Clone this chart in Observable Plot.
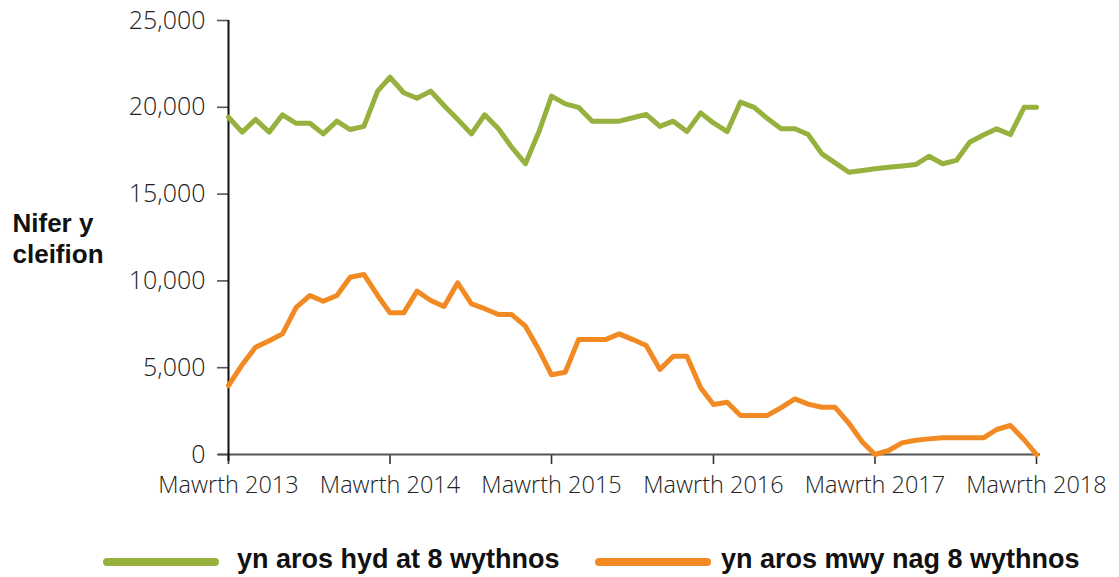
<!DOCTYPE html>
<html><head><meta charset="utf-8">
<script src="https://cdn.jsdelivr.net/npm/d3@7"></script>
<script src="https://cdn.jsdelivr.net/npm/@observablehq/plot@0.6"></script>
<style>
body{margin:0;background:#fff;font-family:"Liberation Sans",Arial,sans-serif}
#chart svg{display:block}
</style>
</head><body><div id="chart"></div><script>
// ---- data ----
const seriesNames = ["yn aros hyd at 8 wythnos", "yn aros mwy nag 8 wythnos"];
const seriesColors = ["#97b13e", "#f28a24"];
const startMonth = "2013-03-01";
const endMonth = "2018-03-01";
const tickYears = [2013, 2014, 2015, 2016, 2017, 2018];
const tickPrefix = "Mawrth";
const yTicks = [0, 5000, 10000, 15000, 20000, 25000];
const yLabel = "Nifer y\ncleifion";
// monthly, March 2013 to March 2018
const upTo8Weeks = [
  19430, 18570, 19300, 18570, 19570, 19080, 19080, 18470, 19200, 18720,
  18900, 20930, 21730, 20840, 20520, 20930, 20100, 19300, 18470, 19570, 18760, 17700,
  16750, 18620, 20640, 20200, 20000, 19200, 19200, 19200, 19400, 19590, 18900, 19200,
  18600, 19680, 19100, 18600, 20300, 20000, 19350, 18760, 18760, 18430, 17320, 16800,
  16260, 16360, 16460, 16550, 16620, 16700, 17180, 16750, 16940, 17990, 18400, 18760,
  18430, 20000, 20000
];
const over8Weeks = [
  3970, 5170, 6180, 6550, 6950, 8480, 9160, 8830, 9160, 10210,
  10370, 9160, 8160, 8160, 9410, 8870, 8530, 9890, 8680, 8400, 8060, 8060,
  7390, 6000, 4590, 4740, 6620, 6620, 6620, 6950, 6620, 6280, 4900, 5660,
  5660, 3840, 2880, 3010, 2250, 2250, 2250, 2700, 3200, 2900, 2720, 2720,
  1800, 710, 0, 230, 670, 820, 900, 960, 960, 960, 960, 1440,
  1670, 850, 0
];

// ---- build table ----
const months = d3.utcMonth.range(new Date(startMonth), d3.utcMonth.offset(new Date(endMonth), 1));
const seriesValues = [upTo8Weeks, over8Weeks];
const data = seriesNames.flatMap((name, s) =>
  months.map((m, i) => ({date: m, value: seriesValues[s][i], series: name})));

const W = 1119, H = 520;
const font = '"Liberation Sans", Arial, sans-serif';
const lightFont = '"Open Sans", "Liberation Sans", Arial, sans-serif';
const plot = Plot.plot({
  width: W, height: H,
  marginLeft: 228, marginRight: 83, marginTop: 20, marginBottom: 66,
  style: {fontFamily: font, background: "white", overflow: "visible"},
  x: {type: "utc", domain: [new Date(startMonth), new Date(endMonth)]},
  y: {domain: [0, 25000]},
  color: {domain: seriesNames, range: seriesColors},
  marks: [
    Plot.axisY({ticks: yTicks, tickSize: 11, tickPadding: 12, fontSize: 25, fontFamily: lightFont, fontWeight: 300,
      tickFormat: d3.format(","), stroke: "#555", strokeWidth: 1.6, fill: "#222", label: null}),
    Plot.axisX({ticks: tickYears.map(y => new Date(Date.UTC(y, 2, 1))), tickSize: 10, tickPadding: 12,
      fontSize: 23.5, fontFamily: lightFont, fontWeight: 300, stroke: "#333", strokeWidth: 1.6, fill: "#222",
      tickFormat: d => `${tickPrefix} ${d.getUTCFullYear()}`, label: null}),
    Plot.ruleY([0], {stroke: "#555", strokeWidth: 2, insetLeft: -10, insetRight: -4}),
    Plot.ruleX([new Date(startMonth)], {stroke: "#111", strokeWidth: 2, insetBottom: -7}),
    Plot.line(data, {x: "date", y: "value", stroke: "series", strokeWidth: 5, strokeLinejoin: "round"}),
    Plot.text([yLabel], {frameAnchor: "left", text: d => d, dx: -216, textAnchor: "start",
      fontSize: 26, fontWeight: "bold", lineHeight: 1.2, fill: "#111"})
  ]
});
document.getElementById("chart").appendChild(plot);

// ---- legend below ----
const legendX = [{sw: 107, tx: 237}, {sw: 599, tx: 721}];
const leg = d3.create("svg").attr("width", W).attr("height", 57).style("display", "block");
seriesNames.forEach((name, i) => {
  leg.append("line").attr("x1", legendX[i].sw).attr("x2", legendX[i].sw + 108)
    .attr("y1", 42).attr("y2", 42).attr("stroke", seriesColors[i])
    .attr("stroke-width", 8).attr("stroke-linecap", "round");
  leg.append("text").attr("x", legendX[i].tx).attr("y", 48)
    .attr("font-family", font).attr("font-size", 27).attr("font-weight", "bold")
    .attr("fill", "#111").text(name);
});
document.getElementById("chart").appendChild(leg.node());
</script></body></html>
